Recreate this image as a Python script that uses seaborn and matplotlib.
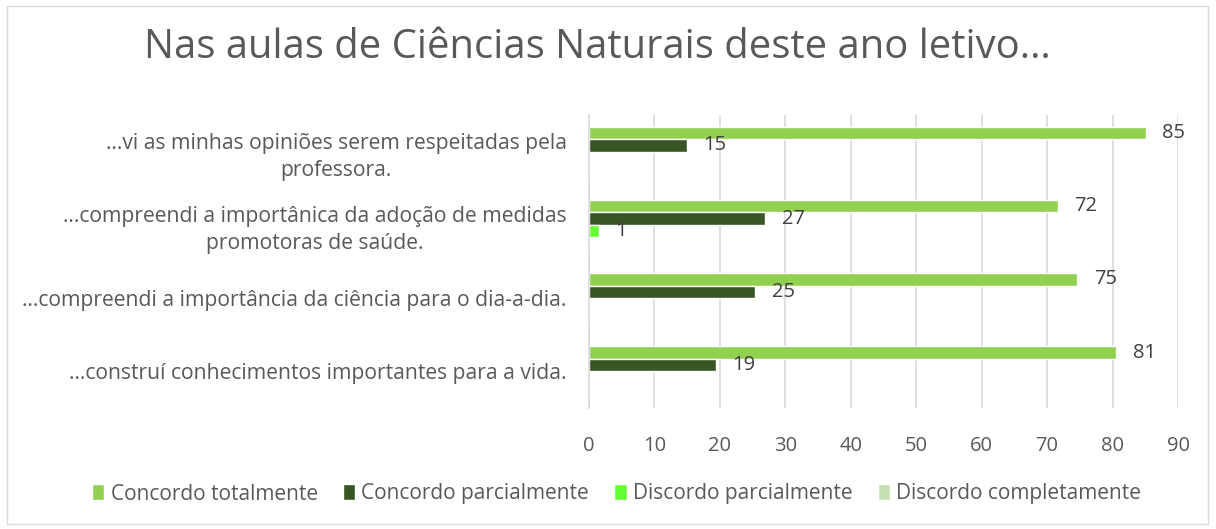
import pandas as pd
import seaborn as sns
import matplotlib.pyplot as plt
from matplotlib.patches import Rectangle

# data (percentages)
categories = [
    "…vi as minhas opiniões serem respeitadas pela\nprofessora.",
    "…compreendi a importânica da adoção de medidas\npromotoras de saúde.",
    "…compreendi a importância da ciência para o dia-a-dia.",
    "…construí conhecimentos importantes para a vida.",
]
series = ["Concordo totalmente", "Concordo parcialmente",
          "Discordo parcialmente", "Discordo completamente"]
concordo_totalmente = [85.07, 71.64, 74.63, 80.60]
concordo_parcialmente = [14.93, 26.87, 25.37, 19.40]
discordo_parcialmente = [0, 1.49, 0, 0]
discordo_completamente = [0, 0, 0, 0]

custom_colors = ['#92D050', '#375623', '#66FF33', '#C5E0B4']

rows = []
for name, vals in zip(series, [concordo_totalmente, concordo_parcialmente,
                               discordo_parcialmente, discordo_completamente]):
    for cat, v in zip(categories, vals):
        rows.append({"categoria": cat, "resposta": name, "valor": v})
df = pd.DataFrame(rows)

sns.set_theme(style="white")
plt.rcParams['font.family'] = ['Open Sans', 'DejaVu Sans']

fig = plt.figure(figsize=(12.16, 5.29), dpi=100)
ax = fig.add_axes([589 / 1216, 1 - 408 / 529, (1178 - 589) / 1216, (408 - 115) / 529])

sns.barplot(data=df, y="categoria", x="valor", hue="resposta", order=categories,
            hue_order=series, palette=custom_colors, orient="h", width=0.68,
            saturation=1, ax=ax, legend=True)

# data labels (skip zero bars)
for cont in ax.containers:
    labels = [f"{v:.0f}" if v > 0 else "" for v in cont.datavalues]
    ax.bar_label(cont, labels=labels, padding=12, fontsize=14.5, color='#404040')

ax.set_xlim(0, 90)
ax.set_xticks(range(0, 91, 10))
ax.set_xlabel("")
ax.set_ylabel("")
ax.xaxis.grid(True, color='#D9D9D9', linewidth=1.2)
ax.set_axisbelow(True)
for s in ["top", "right", "bottom"]:
    ax.spines[s].set_visible(False)
ax.spines["left"].set_color('#D9D9D9')
ax.spines["left"].set_linewidth(1.2)
ax.tick_params(axis='x', length=0, labelsize=14.5, labelcolor='#595959', pad=20)
ax.tick_params(axis='y', length=0, labelsize=15.2, labelcolor='#595959', pad=16)
for t in ax.get_yticklabels():
    t.set_horizontalalignment('right')
    t.set_multialignment('center')
    t.set_linespacing(1.35)

leg = ax.legend(loc='center', bbox_to_anchor=(0.507, 1 - 494 / 529), bbox_transform=fig.transFigure,
                ncol=4, frameon=False, fontsize=15, handlelength=0.6, handleheight=0.8,
                handletextpad=0.3, columnspacing=1.2)
for t in leg.get_texts():
    t.set_color('#595959')

fig.text(0.491, 1 - 48 / 529, "Nas aulas de Ciências Naturais deste ano letivo…",
         ha='center', va='center', fontsize=28.8, color='#595959')

fig.patches.append(Rectangle((7 / 1216, 5 / 529), 1 - 15 / 1216, 1 - 11 / 529,
                             transform=fig.transFigure, fill=False,
                             edgecolor='#D9D9D9', linewidth=1))

plt.savefig('out.png', dpi=100)
